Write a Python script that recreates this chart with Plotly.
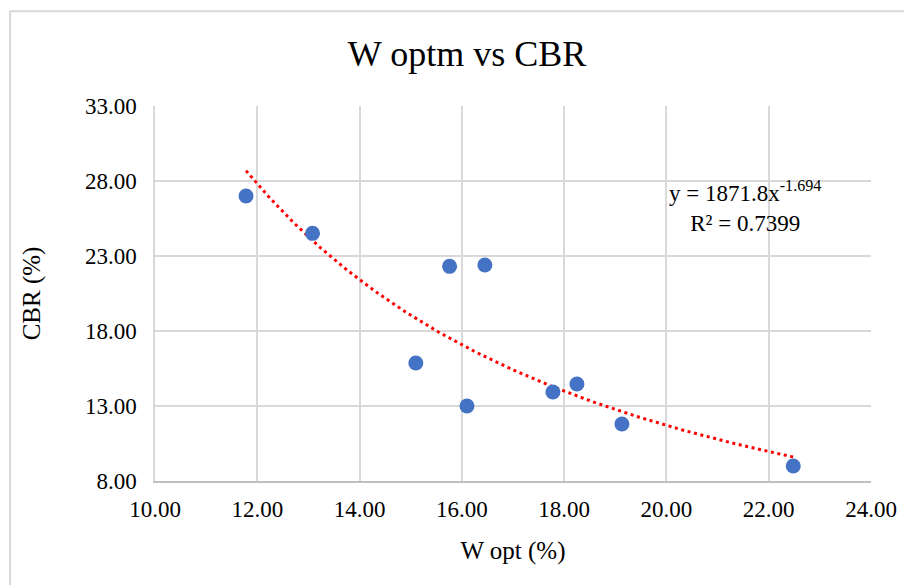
import numpy as np
import plotly.graph_objects as go

# Data
w_opt = [11.78, 13.08, 15.76, 16.45, 15.10, 16.10, 17.78, 18.25, 19.13, 22.48]
cbr = [27.00, 24.51, 22.31, 22.40, 15.87, 13.00, 13.93, 14.47, 11.80, 9.00]

# Power trendline coefficients shown on the chart (y = a * x^b)
trend_a = 1871.8
trend_b = -1.694
r_squared = 0.7399

x_ticks = [10, 12, 14, 16, 18, 20, 22, 24]
y_ticks = [8, 13, 18, 23, 28, 33]

FONT = "Liberation Serif, Times New Roman, serif"

tx = np.linspace(min(w_opt), max(w_opt), 200)
ty = trend_a * tx ** trend_b

fig = go.Figure()
fig.add_trace(go.Scatter(
    x=tx, y=ty, mode="lines",
    line=dict(color="#FF0000", width=3, dash="3px,3.6px"),
    hoverinfo="skip", showlegend=False,
))
fig.add_trace(go.Scatter(
    x=w_opt, y=cbr, mode="markers",
    marker=dict(color="#4472C4", size=15, line=dict(width=0)),
    showlegend=False,
))

fig.add_annotation(
    x=21.54, y=26.27, xref="x", yref="y",
    text=f"y = {trend_a}x<sup>{trend_b}</sup><br>R² = {r_squared}",
    showarrow=False, xanchor="center", yanchor="middle",
    font=dict(family=FONT, size=23, color="#000000"),
    align="center",
)

# chart-area frame
fig.add_shape(type="rect", xref="paper", yref="paper",
              x0=-0.2025, x1=1.1, y0=-0.35, y1=1.253,
              line=dict(color="#D9D9D9", width=2), fillcolor="rgba(0,0,0,0)",
              layer="below")

fig.update_layout(
    width=912, height=585,
    margin=dict(l=147, r=49, t=98, b=112),
    paper_bgcolor="white", plot_bgcolor="white",
    font=dict(family=FONT, color="#000000"),
    title=dict(text="W optm vs CBR", x=459 / 912, xref="container", xanchor="center",
               y=1 - 45 / 585, yref="container", yanchor="middle",
               font=dict(family=FONT, size=36, color="#000000")),
    showlegend=False,
)
fig.update_xaxes(
    range=[10, 24], tickvals=x_ticks, ticktext=[f"{v:.2f}" for v in x_ticks],
    showgrid=True, gridcolor="#D9D9D9", gridwidth=1.5,
    showline=True, linecolor="#BFBFBF", linewidth=2,
    zeroline=False, ticks="", ticklabelstandoff=6,
    tickfont=dict(family=FONT, size=23, color="#000000"),
    title=dict(text="W opt (%)", font=dict(family=FONT, size=25, color="#000000"), standoff=21),
)
fig.update_yaxes(
    range=[8, 33], tickvals=y_ticks, ticktext=[f"{v:.2f}" for v in y_ticks],
    showgrid=True, gridcolor="#D9D9D9", gridwidth=1.5,
    showline=True, linecolor="#D9D9D9", linewidth=1.5,
    zeroline=False, ticks="", ticklabelstandoff=12,
    tickfont=dict(family=FONT, size=23, color="#000000"),
    title=dict(text="CBR (%)", font=dict(family=FONT, size=25, color="#000000"), standoff=37),
)

fig.write_html("out.html")
